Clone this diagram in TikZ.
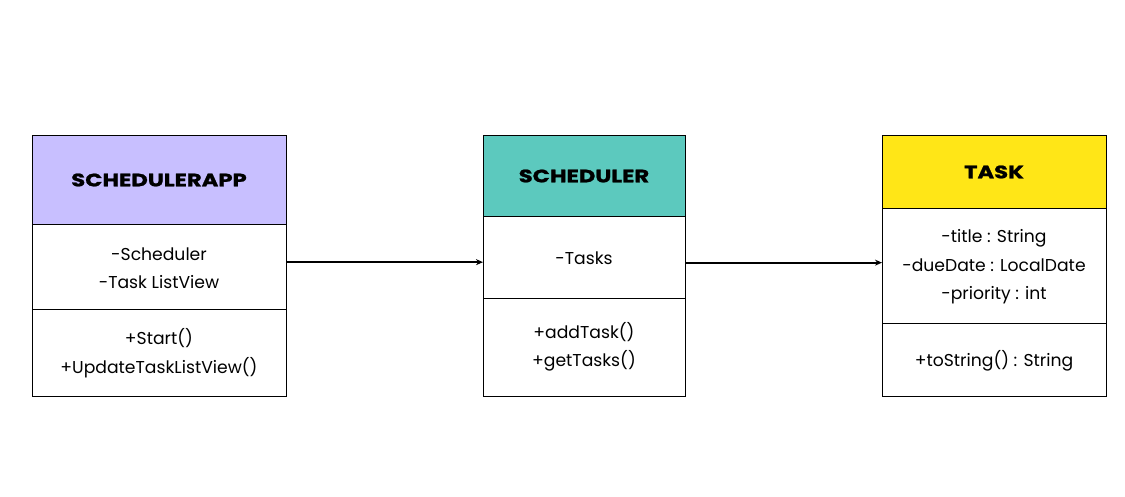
\documentclass[tikz,border=0pt]{standalone}
\usepackage{fontspec}
\setmainfont{Poppins}
\newfontfamily\headfont[FakeStretch=1.26,FakeBold=1.2]{Poppins Bold}
\usetikzlibrary{arrows.meta}
\definecolor{lav}{HTML}{C8BFFF}
\definecolor{teal}{HTML}{5CC9BE}
\definecolor{yel}{HTML}{FFE617}
\tikzset{
  box/.style={draw=black, line width=1.3pt, anchor=north west, inner sep=0pt},
  head/.style={font=\headfont\fontsize{18}{20}\selectfont},
  body/.style={font=\fontsize{17.2}{28.5}\selectfont, align=center},
  conn/.style={line width=1.8pt, -{Stealth[length=7pt,width=6pt]}}
}
\begin{document}
\begin{tikzpicture}[x=1pt,y=-1pt]
\useasboundingbox (0,0) rectangle (1125,496);
% SchedulerApp
\node[box, fill=lav, minimum width=254pt, minimum height=89pt] (apph) at (32,135) {};
\node[box, minimum width=254pt, minimum height=85pt] (appa) at (32,224) {};
\node[box, minimum width=254pt, minimum height=87pt] (appm) at (32,309) {};
\node[head] (appt) at (159,180) {SCHEDULERAPP};
\node[body] (appat) at (159,268) {-Scheduler\\-Task ListView};
\node[body] (appmt) at (159,353) {+Start()\\+UpdateTaskListView()};
% Scheduler
\node[box, fill=teal, minimum width=202pt, minimum height=81pt] (sch) at (483,135) {};
\node[box, minimum width=202pt, minimum height=82pt] (scha) at (483,216) {};
\node[box, minimum width=202pt, minimum height=98pt] (schm) at (483,298) {};
\node[head] (scht) at (584,176) {SCHEDULER};
\node[body] (schat) at (584,258) {-Tasks};
\node[body] (schmt) at (584,347) {+addTask()\\+getTasks()};
% Task
\node[box, fill=yel, minimum width=224pt, minimum height=73pt] (tsk) at (882,135) {};
\node[box, minimum width=224pt, minimum height=115pt] (tska) at (882,208) {};
\node[box, minimum width=224pt, minimum height=73pt] (tskm) at (882,323) {};
\node[head] (tskt) at (994,172) {TASK};
\node[body] (tskat) at (994,267) {-title : String\\-dueDate : LocalDate\\-priority : int};
\node[body] (tskmt) at (994,361) {+toString() : String};
% connectors
\draw[conn] ([yshift=5pt]appa.east) -- ([yshift=5pt]appa.east -| scha.west);
\draw[conn] ([yshift=-5pt]scha.east) -- ([yshift=-5pt]scha.east -| tska.west);
\end{tikzpicture}
\end{document}
